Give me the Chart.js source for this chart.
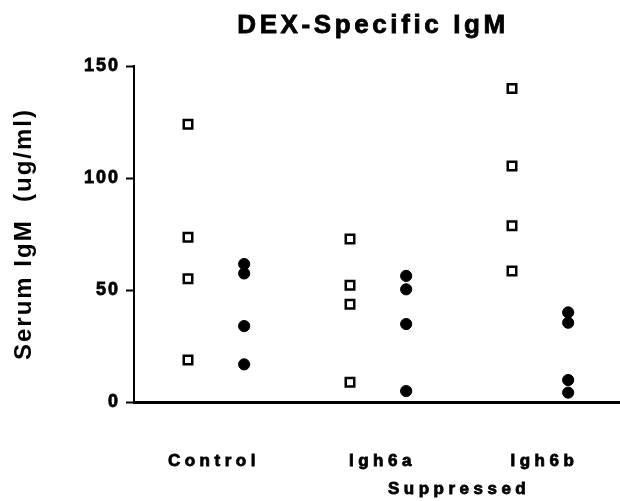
<!DOCTYPE html>
<html>
<head>
<meta charset="utf-8">
<script src="https://cdn.jsdelivr.net/npm/chart.js@4"></script>
<style>
  html, body { margin: 0; padding: 0; background: #fff; }
  canvas { display: block; }
</style>
</head>
<body>
<canvas id="chart" width="620" height="501"></canvas>
<script>
// values (ug/ml)
const groups = ['Control', 'Igh6a', 'Igh6b'];
const squareX = [1, 4, 7];
const circleX = [2.04, 5.04, 8.04];
const squareValues = [
  [124, 73.5, 55, 18.8],
  [72.8, 52.1, 43.6, 8.8],
  [140, 105.4, 78.7, 58.5],
];
const circleValues = [
  [61.6, 57.4, 33.9, 16.8],
  [56.3, 50.3, 34.8, 4.9],
  [40, 35.4, 9.8, 4.2],
];
const yTicks = [0, 50, 100, 150];
const xTickValues = [1.48, 4.6, 6.02, 7.6];
const xTickLabels = [groups[0], groups[1], ['', 'Suppressed'], groups[2]];

const FONT = "'Liberation Sans', Arial, sans-serif";

function toPoints(xs, values) {
  const pts = [];
  values.forEach((vals, i) => vals.forEach((v) => pts.push({ x: xs[i], y: v })));
  return pts;
}

// canvas letter spacing: y axis layer, then x labels (drawn at z 1), then title
const textSpacing = {
  id: 'textSpacing',
  beforeDraw(chart) { chart.ctx.letterSpacing = '2px'; },
  afterDatasetsDraw(chart) { chart.ctx.letterSpacing = '4.5px'; },
  afterDraw(chart) {
    const ctx = chart.ctx;
    const area = chart.chartArea;
    const text = 'DEX-Specific IgM';
    const x = (area.left + area.right) / 2 - 4;
    ctx.save();
    ctx.letterSpacing = '3.6px';
    ctx.font = 'bold 26px ' + FONT;
    ctx.fillStyle = '#000';
    ctx.strokeStyle = '#000';
    ctx.lineWidth = 0.8;
    ctx.textAlign = 'center';
    ctx.textBaseline = 'middle';
    ctx.fillText(text, x, 26);
    ctx.strokeText(text, x, 26);
    ctx.restore();
    ctx.letterSpacing = '0px';
  },
};

new Chart(document.getElementById('chart').getContext('2d'), {
  type: 'scatter',
  data: {
    datasets: [
      {
        data: toPoints(squareX, squareValues),
        pointStyle: 'rect',
        pointRadius: 6,
        pointBackgroundColor: '#fff',
        pointBorderColor: '#000',
        pointBorderWidth: 2.5,
      },
      {
        data: toPoints(circleX, circleValues),
        pointStyle: 'circle',
        pointRadius: 5.6,
        pointBackgroundColor: '#000',
        pointBorderColor: '#000',
        pointBorderWidth: 1,
      },
    ],
  },
  options: {
    responsive: false,
    animation: false,
    layout: { autoPadding: false, padding: { top: 66, right: 0, bottom: 0, left: 0 } },
    plugins: {
      legend: { display: false },
      tooltip: { enabled: false },
    },
    scales: {
      x: {
        type: 'linear',
        min: 0,
        max: 9,
        afterBuildTicks: (axis) => { axis.ticks = xTickValues.map((v) => ({ value: v })); },
        afterFit: (scale) => {
          scale.height = 99;
          scale.paddingLeft = 0;
          scale.paddingRight = 0;
        },
        grid: { drawOnChartArea: false, drawTicks: false },
        border: { color: '#000', width: 3 },
        ticks: {
          z: 1,
          autoSkip: false,
          maxRotation: 0,
          padding: 45,
          color: '#000',
          textStrokeColor: '#000',
          textStrokeWidth: 0.8,
          font: { family: FONT, size: 17, weight: 'bold', lineHeight: '28px' },
          callback: (value, index) => xTickLabels[index],
        },
      },
      y: {
        min: 0,
        max: 150,
        afterBuildTicks: (axis) => { axis.ticks = yTicks.map((v) => ({ value: v })); },
        afterFit: (scale) => { scale.width = 134; },
        grid: { drawOnChartArea: false, color: '#000', tickLength: 8, tickWidth: 2 },
        border: { color: '#000', width: 2 },
        ticks: {
          padding: 6,
          color: '#000',
          textStrokeColor: '#000',
          textStrokeWidth: 0.8,
          font: { family: FONT, size: 18, weight: 'bold' },
        },
        title: {
          display: true,
          text: 'Serum IgM  (ug/ml)',
          color: '#000',
          padding: { top: 10, bottom: 0 },
          font: { family: FONT, size: 24, weight: 'bold' },
        },
      },
    },
  },
  plugins: [textSpacing],
});
</script>
</body>
</html>
